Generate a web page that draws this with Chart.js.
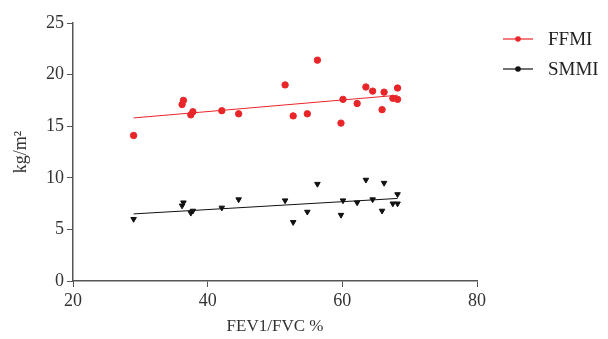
<!DOCTYPE html>
<html>
<head>
<meta charset="utf-8">
<script src="https://cdn.jsdelivr.net/npm/chart.js@4.4.0/dist/chart.umd.min.js"></script>
<style>
  html, body { margin: 0; padding: 0; background: #fff; }
  #wrap { width: 608px; height: 339px; position: relative; }
</style>
</head>
<body>
<div id="wrap"><canvas id="chart" width="608" height="339"></canvas></div>
<script>
// FEV1/FVC % for each patient (shared by both series)
const fevFvc = [29.0, 36.4, 36.2, 37.5, 37.8, 42.1, 44.6, 51.5, 52.7, 54.8, 56.3,
                59.8, 60.1, 62.2, 63.5, 64.5, 65.9, 66.2, 67.5, 68.2, 68.2];
const ffmi = [14.1, 17.5, 17.1, 16.1, 16.4, 16.5, 16.2, 19.0, 16.0, 16.2, 21.4,
              15.3, 17.6, 17.2, 18.8, 18.4, 16.6, 18.3, 17.7, 18.7, 17.6];
const smmi = [6.0, 7.6, 7.3, 6.6, 6.8, 7.1, 7.9, 7.8, 5.7, 6.7, 9.4,
              6.4, 7.8, 7.6, 9.8, 7.9, 6.8, 9.5, 7.5, 8.4, 7.5];

// fitted lines, endpoints
const fitX = [29.0, 68.2];
const ffmiFit = [15.8, 18.0];
const smmiFit = [6.5, 8.0];

const xTicks = [20, 40, 60, 80];
const yTicks = [0, 5, 10, 15, 20, 25];

const RED = "#e8262a";
const BLACK = "#111111";
const AXIS = "#555555";
const FONT = "'Liberation Serif', 'DejaVu Serif', serif";

const pts = (xs, ys) => xs.map((x, i) => ({ x, y: ys[i] }));

const legendPlugin = {
    id: "sideLegend",
    afterDraw(chart) {
        const ctx = chart.ctx;
        const items = [
            { label: "FFMI", color: RED, y: 39 },
            { label: "SMMI", color: BLACK, y: 69 },
        ];
        ctx.save();
        items.forEach(it => {
            ctx.strokeStyle = it.color;
            ctx.lineWidth = 1.2;
            ctx.beginPath();
            ctx.moveTo(503, it.y);
            ctx.lineTo(533, it.y);
            ctx.stroke();
            ctx.fillStyle = it.color;
            ctx.beginPath();
            ctx.arc(518, it.y, 2.8, 0, Math.PI * 2);
            ctx.fill();
            ctx.fillStyle = "#222";
            ctx.font = "19px " + FONT;
            ctx.textBaseline = "middle";
            ctx.fillText(it.label, 548, it.y + 1);
        });
        ctx.restore();
    },
};

new Chart(document.getElementById("chart"), {
    type: "scatter",
    data: {
        datasets: [
            {
                label: "FFMI",
                data: pts(fevFvc, ffmi),
                backgroundColor: RED,
                borderColor: RED,
                pointStyle: "circle",
                pointRadius: 3.2,
            },
            {
                label: "SMMI",
                data: pts(fevFvc, smmi),
                backgroundColor: BLACK,
                borderColor: BLACK,
                pointStyle: "triangle",
                rotation: 180,
                pointRadius: 3.2,
            },
            {
                type: "line",
                label: "FFMI fit",
                data: pts(fitX, ffmiFit),
                borderColor: RED,
                borderWidth: 1,
                pointRadius: 0,
                fill: false,
            },
            {
                type: "line",
                label: "SMMI fit",
                data: pts(fitX, smmiFit),
                borderColor: BLACK,
                borderWidth: 1,
                pointRadius: 0,
                fill: false,
            },
        ],
    },
    options: {
        responsive: false,
        animation: false,
        layout: { padding: { left: 0, right: 131, top: 23, bottom: 0 } },
        plugins: {
            legend: { display: false },
            tooltip: { enabled: false },
        },
        scales: {
            x: {
                type: "linear",
                min: 20,
                max: 80,
                afterBuildTicks: (s) => { s.ticks = xTicks.map(v => ({ value: v })); },
                afterFit: (s) => { s.height = 58; },
                grid: { drawOnChartArea: false, drawTicks: true, tickLength: 6, color: AXIS },
                border: { display: true, color: AXIS, width: 1.5 },
                ticks: { color: "#333", font: { family: FONT, size: 18 }, padding: 3 },
                title: {
                    display: true,
                    text: "FEV1/FVC %",
                    color: "#333",
                    font: { family: FONT, size: 17 },
                    padding: { top: 0, bottom: 2 },
                },
            },
            y: {
                type: "linear",
                min: 0,
                max: 25,
                afterBuildTicks: (s) => { s.ticks = yTicks.map(v => ({ value: v })); },
                afterFit: (s) => { s.width = 73; },
                grid: { drawOnChartArea: false, drawTicks: true, tickLength: 6, color: AXIS },
                border: { display: true, color: AXIS, width: 1.5 },
                ticks: { color: "#333", font: { family: FONT, size: 18 }, padding: 3 },
                title: {
                    display: true,
                    text: "kg/m²",
                    color: "#333",
                    font: { family: FONT, size: 18 },
                    padding: { top: 10, bottom: 0 },
                },
            },
        },
    },
    plugins: [legendPlugin],
});
</script>
</body>
</html>
